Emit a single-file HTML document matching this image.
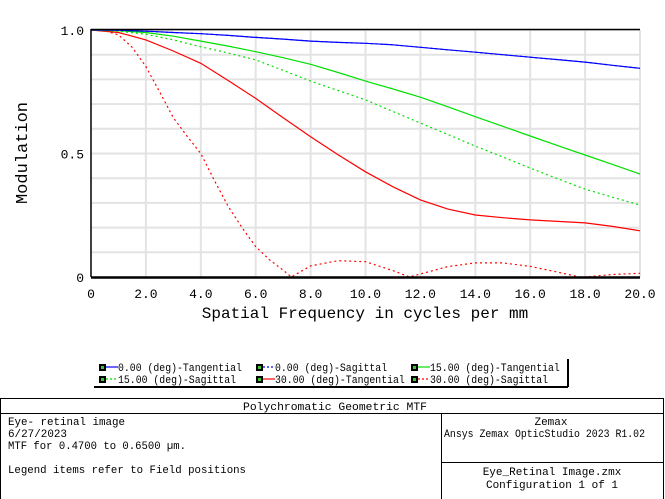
<!DOCTYPE html>
<html><head><meta charset="utf-8"><style>
html,body{margin:0;padding:0;background:#fff;width:665px;height:499px;overflow:hidden}
svg{display:block}
text{font-family:"Liberation Mono","DejaVu Sans Mono",monospace;fill:#000}
</style></head><body>
<svg id="chart" width="665" height="499">
<g id="grid"></g>
<g id="series"></g>
<g id="axes"></g>
<text x="27" y="153" font-size="17" text-anchor="middle" transform="rotate(-90 27 153)">Modulation</text>
<text x="365" y="318" font-size="16" text-anchor="middle">Spatial Frequency in cycles per mm</text>
<g>
<line x1="568" y1="359" x2="568" y2="387" stroke="#000" stroke-width="2"/>
<line x1="94" y1="387" x2="568" y2="387" stroke="#000" stroke-width="2"/>
<g id="legend-items"></g>
</g>
<g font-size="11">
<rect x="0.5" y="398.5" width="663" height="101" fill="none" stroke="#000"/>
<line x1="0" y1="413.5" x2="664" y2="413.5" stroke="#000"/>
<line x1="441.5" y1="413" x2="441.5" y2="499" stroke="#000"/>
<line x1="441" y1="462.5" x2="664" y2="462.5" stroke="#000"/>
<text x="243" y="410" font-size="11" textLength="184" lengthAdjust="spacingAndGlyphs">Polychromatic Geometric MTF</text>
<text x="8" y="425" font-size="11" textLength="117" lengthAdjust="spacingAndGlyphs">Eye- retinal image</text>
<text x="8" y="437" font-size="11" textLength="59" lengthAdjust="spacingAndGlyphs">6/27/2023</text>
<text x="8" y="449" font-size="11" textLength="178" lengthAdjust="spacingAndGlyphs">MTF for 0.4700 to 0.6500 µm.</text>
<text x="8" y="473" font-size="11" textLength="238" lengthAdjust="spacingAndGlyphs">Legend items refer to Field positions</text>
<text x="551" y="425" text-anchor="middle" font-size="11">Zemax</text>
<text x="444" y="437" font-size="11" textLength="201" lengthAdjust="spacingAndGlyphs">Ansys Zemax OpticStudio 2023 R1.02</text>
<text x="552" y="475" text-anchor="middle" font-size="11">Eye_Retinal Image.zmx</text>
<text x="552" y="488" text-anchor="middle" font-size="11">Configuration 1 of 1</text>
</g>
</svg>
<script>
const freqs = [0,1,2,3,4,5,6,7,8,9,10,11,12,13,14,15,16,17,18,19,20];
const t0 = [1,0.999,0.995,0.99,0.985,0.978,0.97,0.963,0.955,0.95,0.946,0.94,0.93,0.92,0.91,0.90,0.89,0.88,0.87,0.857,0.845];
const s0 = [1,0.999,0.995,0.99,0.985,0.978,0.97,0.963,0.955,0.95,0.946,0.94,0.93,0.92,0.91,0.90,0.89,0.88,0.87,0.857,0.845];
const t15 = [1,0.997,0.99,0.975,0.955,0.935,0.912,0.888,0.861,0.828,0.793,0.761,0.728,0.689,0.649,0.610,0.571,0.532,0.494,0.456,0.417];
const s15 = [1,0.995,0.983,0.96,0.932,0.907,0.879,0.837,0.793,0.755,0.717,0.670,0.623,0.577,0.530,0.486,0.441,0.398,0.356,0.323,0.291];
const t30 = [1,0.99,0.96,0.915,0.865,0.795,0.723,0.645,0.568,0.495,0.426,0.365,0.312,0.275,0.251,0.240,0.231,0.225,0.219,0.205,0.187];
const sFreqs30 = [0,0.5,1,1.5,2,2.5,3,3.5,4,4.5,5,5.5,6,6.5,7,7.3,8,9,10,11,11.6,12,13,14,15,16,17,17.8,18,19,20];
const s30 = [1,0.997,0.98,0.93,0.852,0.75,0.645,0.57,0.5,0.39,0.285,0.2,0.123,0.07,0.028,0,0.045,0.066,0.062,0.026,0,0.012,0.042,0.057,0.057,0.043,0.02,0,0,0.01,0.015];
const xTicks = [0,2,4,6,8,10,12,14,16,18,20];
const xTickLabels = ["0","2.0","4.0","6.0","8.0","10.0","12.0","14.0","16.0","18.0","20.0"];
const yTicks = [0,0.5,1.0];
const yTickLabels = ["0","0.5","1.0"];
const legendLabels = ["0.00 (deg)-Tangential","0.00 (deg)-Sagittal","15.00 (deg)-Tangential","15.00 (deg)-Sagittal","30.00 (deg)-Tangential","30.00 (deg)-Sagittal"];

const NS="http://www.w3.org/2000/svg";
const X0=91,X1=640,Y0=277,Y1=30;
const xs=v=>X0+(v/20)*(X1-X0);
const ys=v=>Y0-v*(Y0-Y1);
function mk(tag,attrs,parent){const e=document.createElementNS(NS,tag);for(const k in attrs)e.setAttribute(k,attrs[k]);parent.appendChild(e);return e;}
const grid=document.getElementById('grid'),axes=document.getElementById('axes'),ser=document.getElementById('series');
for(let i=1;i<=10;i++){const l=mk('line',{x1:X0,x2:X1,y1:ys(i/10),y2:ys(i/10),stroke:'#e3e3e3','stroke-width':2},grid);

}
xTicks.forEach((t,i)=>{if(t>0){const l=mk('line',{x1:xs(t),x2:xs(t),y1:Y1,y2:Y0,stroke:'#e3e3e3','stroke-width':2},grid);

}
const tx=mk('text',{x:xs(t),y:298,'font-size':13,'text-anchor':'middle'},axes);tx.textContent=xTickLabels[i];

});
yTicks.forEach((t,i)=>{const tx=mk('text',{x:84,y:ys(t)+5,'font-size':13,'text-anchor':'end'},axes);tx.textContent=yTickLabels[i];

});
mk('line',{x1:X0,x2:X1,y1:29.5,y2:29.5,stroke:'#000','stroke-width':1.5},axes);
mk('line',{x1:X0,x2:X0,y1:29,y2:Y0,stroke:'#000','stroke-width':1.5},axes);
mk('line',{x1:X0,x2:X1,y1:Y0+0.5,y2:Y0+0.5,stroke:'#000','stroke-width':2.5},axes);

const defs=[[freqs,t30,'#ff0000',null,'series-30-tangential'],[sFreqs30,s30,'#ff0000','2,3','series-30-sagittal'],
[freqs,s15,'#00e000','2,3','series-15-sagittal'],[freqs,t15,'#00e000',null,'series-15-tangential'],
[freqs,s0,'#0000ff','2,3','series-0-sagittal'],[freqs,t0,'#0000ff',null,'series-0-tangential']];
defs.forEach(d=>{const pts=d[0].map((f,i)=>xs(f).toFixed(1)+','+ys(d[1][i]).toFixed(1)).join(' ');
const a={points:pts,fill:'none',stroke:d[2],'stroke-width':1.2};if(d[3])a['stroke-dasharray']=d[3];
const p=mk('polyline',a,ser);

});

const lg=document.getElementById('legend-items');
const lcol=['#0000ff','#0000ff','#00e000','#00e000','#ff0000','#ff0000'];
const ldash=[null,'2,2',null,'2,2',null,'2,2'];
const colX=[99,256,411];
legendLabels.forEach((lab,i)=>{const col=i%3,row=Math.floor(i/3);const x=colX[col],y=367+row*12;
const g=mk('g',{},lg);


mk('rect',{x:x,y:y-3,width:7,height:7,fill:'#000'},g);
mk('rect',{x:x+2,y:y-1,width:3,height:3,fill:'#3c3'},g);
const la={x1:x+7,x2:x+19,y1:y,y2:y,stroke:lcol[i],'stroke-width':1.2};if(ldash[i])la['stroke-dasharray']=ldash[i];
mk('line',la,g);
const t=mk('text',{x:x+19,y:y+4,'font-size':11,textLength:(lab.length*5.9).toFixed(1),lengthAdjust:'spacingAndGlyphs'},g);t.textContent=lab;});
</script>
</body></html>
